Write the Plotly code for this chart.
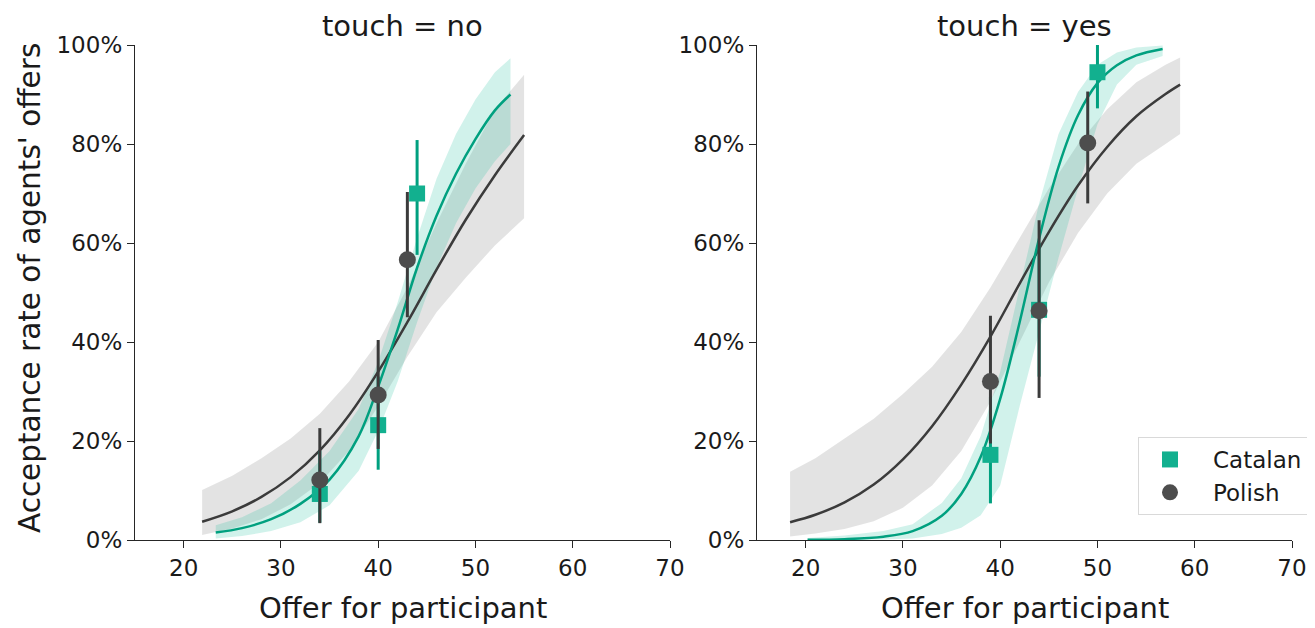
import plotly.graph_objects as go

# ---------------- data ----------------
# fitted curves + confidence bands, touch = no
cat_no_x  = [23.3, 26, 29, 32, 35, 38, 40, 42, 44, 46, 48, 50, 52, 53.6]
cat_no_y  = [1.5, 2.4, 4.2, 7.3, 12.2, 21, 31, 42.5, 55, 65.5, 74, 81, 86.8, 90]
cat_no_lo = [0.3, 0.8, 1.8, 3.6, 7, 14, 22, 32, 44, 55, 64, 71, 76.5, 80]
cat_no_hi = [3.0, 4.6, 7.4, 12, 18, 26.5, 36, 48, 61, 73, 82, 89, 94.5, 97.3]

pol_no_x  = [21.9, 25, 28, 31, 34, 37, 40, 43, 46, 49, 52, 55]
pol_no_y  = [3.7, 5.8, 8.7, 12.7, 18.1, 25.2, 34.0, 44.0, 54.6, 64.7, 73.7, 81.8]
pol_no_lo = [1.0, 2.3, 4.2, 7.2, 11.5, 18, 27, 37, 46, 53, 59.5, 65]
pol_no_hi = [10.1, 13, 16.5, 20.5, 25.5, 32, 40, 51, 64, 76, 87, 94]

# fitted curves + confidence bands, touch = yes
cat_yes_x  = [20.2, 24, 28, 31, 34, 36, 38, 40, 42, 44, 46, 48, 50, 52, 54, 56.7]
cat_yes_y  = [0.05, 0.17, 0.67, 1.8, 4.9, 9.3, 16.8, 28.5, 44.0, 60.9, 75.4, 85.8, 92.3, 95.9, 97.9, 99.2]
cat_yes_lo = [0.0, 0.02, 0.1, 0.3, 1.2, 2.5, 5, 11, 27, 42, 57, 71, 84, 92, 96, 97.8]
cat_yes_hi = [0.4, 0.9, 1.8, 3.2, 7.5, 12.5, 21, 34, 51, 68, 82, 90.5, 96, 98.5, 99.5, 99.9]

pol_yes_x  = [18.4, 21, 24, 27, 30, 33, 36, 39, 42, 45, 48, 51, 54, 57, 58.5]
pol_yes_y  = [3.6, 5.1, 7.6, 11.2, 16.3, 23.0, 31.4, 41.1, 51.8, 62.2, 71.6, 79.4, 85.6, 90.1, 92.0]
pol_yes_lo = [0.7, 1.3, 2.2, 3.8, 6.5, 11, 18, 28, 40, 52, 62, 70, 76, 80, 82]
pol_yes_hi = [13.8, 16.5, 20.5, 24.5, 29.5, 35, 42, 51, 61, 71, 80, 87, 92.5, 96, 97.5]

# observed points with error bars
cat_no_px, cat_no_py   = [34, 40, 44], [9.3, 23.2, 70.0]
cat_no_plo, cat_no_phi = [3.5, 14.2, 57.6], [18, 33, 80.8]
pol_no_px, pol_no_py   = [34, 40, 43], [12.1, 29.3, 56.6]
pol_no_plo, pol_no_phi = [3.4, 18.4, 45.0], [22.6, 40.4, 70.3]

cat_yes_px, cat_yes_py   = [39, 44, 50], [17.2, 46.5, 94.5]
cat_yes_plo, cat_yes_phi = [7.4, 33, 87.2], [29, 60, 100.5]
pol_yes_px, pol_yes_py   = [39, 44, 49], [32.0, 46.3, 80.2]
pol_yes_plo, pol_yes_phi = [19.5, 28.7, 68.0], [45.3, 64.6, 90.6]

panel_titles = ["touch = no", "touch = yes"]
y_ticks = [0, 20, 40, 60, 80, 100]
y_tick_labels = ["0%", "20%", "40%", "60%", "80%", "100%"]
x_ticks = [20, 30, 40, 50, 60, 70]

# ---------------- styling ----------------
FONT = "DejaVu Sans"
CAT_LINE = "#00a07f"
CAT_MARK = "#12b08f"
CAT_BAND = "rgba(26,188,156,0.20)"
POL_LINE = "#3b3b3b"
POL_MARK = "#4d4d4d"
POL_BAND = "rgba(0,0,0,0.11)"
AXIS_COL = "#262626"
TXT = "#1a1a1a"

fig = go.Figure()


def add_panel(xa, ya, cx, cy, clo, chi, px, py, plo, phi,
              qx, qy, qlo, qhi, kx, ky, klo, khi, legend):
    # bands
    fig.add_trace(go.Scatter(x=px + px[::-1], y=phi + plo[::-1], fill="toself",
                             fillcolor=POL_BAND, line=dict(width=0), mode="lines",
                             hoverinfo="skip", showlegend=False, xaxis=xa, yaxis=ya))
    fig.add_trace(go.Scatter(x=cx + cx[::-1], y=chi + clo[::-1], fill="toself",
                             fillcolor=CAT_BAND, line=dict(width=0), mode="lines",
                             hoverinfo="skip", showlegend=False, xaxis=xa, yaxis=ya))
    # curves
    fig.add_trace(go.Scatter(x=px, y=py, mode="lines",
                             line=dict(color=POL_LINE, width=2.5, shape="spline"),
                             showlegend=False, xaxis=xa, yaxis=ya))
    fig.add_trace(go.Scatter(x=cx, y=cy, mode="lines",
                             line=dict(color=CAT_LINE, width=2.5, shape="spline"),
                             showlegend=False, xaxis=xa, yaxis=ya))
    # points
    fig.add_trace(go.Scatter(
        x=qx, y=qy, mode="markers", name="Catalan", showlegend=legend,
        marker=dict(symbol="square", size=16, color=CAT_MARK),
        error_y=dict(type="data", symmetric=False,
                     array=[h - v for h, v in zip(qhi, qy)],
                     arrayminus=[v - l for v, l in zip(qy, qlo)],
                     color=CAT_LINE, thickness=3, width=0),
        xaxis=xa, yaxis=ya))
    fig.add_trace(go.Scatter(
        x=kx, y=ky, mode="markers", name="Polish", showlegend=legend,
        marker=dict(symbol="circle", size=17, color=POL_MARK),
        error_y=dict(type="data", symmetric=False,
                     array=[h - v for h, v in zip(khi, ky)],
                     arrayminus=[v - l for v, l in zip(ky, klo)],
                     color=POL_LINE, thickness=3, width=0),
        xaxis=xa, yaxis=ya))


add_panel("x", "y", cat_no_x, cat_no_y, cat_no_lo, cat_no_hi,
          pol_no_x, pol_no_y, pol_no_lo, pol_no_hi,
          cat_no_px, cat_no_py, cat_no_plo, cat_no_phi,
          pol_no_px, pol_no_py, pol_no_plo, pol_no_phi, False)
add_panel("x2", "y2", cat_yes_x, cat_yes_y, cat_yes_lo, cat_yes_hi,
          pol_yes_x, pol_yes_y, pol_yes_lo, pol_yes_hi,
          cat_yes_px, cat_yes_py, cat_yes_plo, cat_yes_phi,
          pol_yes_px, pol_yes_py, pol_yes_plo, pol_yes_phi, True)

# page is drawn with an 8px body margin, so the figure is 8px smaller;
# positions below are given in page pixels and converted.
OFF = 8
W, H = 1315 - OFF, 628 - OFF
ML, MR, MT, MB = 135 - OFF, 7, 45 - OFF, 88
PW = W - ML - MR
PH = H - MT - MB


def px_x(v):
    return (v - 135) / PW


def px_y(v):
    return (540 - v) / PH


d1 = [0, px_x(670)]
d2 = [px_x(757), px_x(1292)]

xcommon = dict(range=[15, 70], tickvals=x_ticks, showline=True, linecolor=AXIS_COL,
               linewidth=1.3, ticks="outside", ticklen=7, tickwidth=1.3,
               tickcolor=AXIS_COL, showgrid=False, zeroline=False, automargin=False,
               tickfont=dict(family=FONT, size=23, color=TXT))
ycommon = dict(range=[0, 100], tickvals=y_ticks, ticktext=y_tick_labels, showline=True,
               linecolor=AXIS_COL, linewidth=1.3, ticks="outside", ticklen=7,
               tickwidth=1.3, tickcolor=AXIS_COL, showgrid=False, zeroline=False,
               automargin=False, tickfont=dict(family=FONT, size=23, color=TXT))

fig.update_layout(
    width=W, height=H,
    margin=dict(l=ML, r=MR, t=MT, b=MB, autoexpand=False),
    paper_bgcolor="white", plot_bgcolor="white",
    font=dict(family=FONT, color=TXT),
    xaxis=dict(domain=d1, anchor="y", **xcommon),
    yaxis=dict(domain=[0, 1], anchor="x", **ycommon),
    xaxis2=dict(domain=d2, anchor="y2", **xcommon),
    yaxis2=dict(domain=[0, 1], anchor="x2", **ycommon),
    legend=dict(x=px_x(1308), xanchor="right", y=px_y(515), yanchor="bottom",
                bgcolor="white", bordercolor="#d9d9d9", borderwidth=1,
                font=dict(family=FONT, size=23, color=TXT),
                itemwidth=76, indentation=-12, tracegroupgap=0),
    showlegend=True,
)

ann = []
for dom, t in zip([d1, d2], panel_titles):
    cx = (dom[0] + dom[1]) / 2
    ann.append(dict(text=t, x=cx, y=px_y(26), xref="paper", yref="paper",
                    xanchor="center", yanchor="middle", showarrow=False,
                    font=dict(family=FONT, size=29, color=TXT)))
    ann.append(dict(text="Offer for participant", x=cx, y=px_y(608),
                    xref="paper", yref="paper", xanchor="center", yanchor="middle",
                    showarrow=False, font=dict(family=FONT, size=29, color=TXT)))
ann.append(dict(text="Acceptance rate of agents' offers", x=px_x(30), y=px_y(288),
                xref="paper", yref="paper", xanchor="center", yanchor="middle",
                textangle=-90, showarrow=False,
                font=dict(family=FONT, size=29.5, color=TXT)))
fig.update_layout(annotations=ann)

fig.write_html("out.html")
